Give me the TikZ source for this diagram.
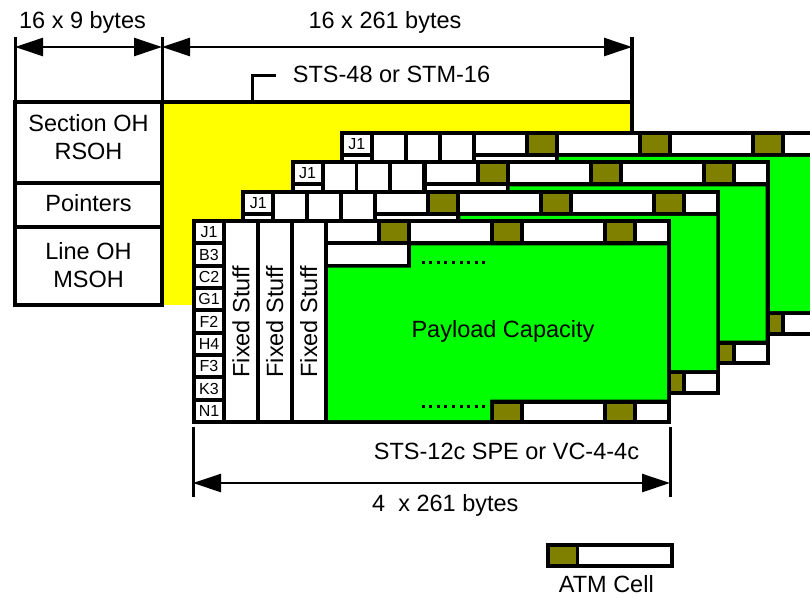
\documentclass[tikz,border=0pt]{standalone}
\usepackage{fontspec}
\setmainfont{Liberation Sans}
\usepackage{tikz}
\usetikzlibrary{arrows.meta,calc,positioning}
\definecolor{payloadgreen}{HTML}{00FF00}
\definecolor{atmolive}{HTML}{808000}
\definecolor{stmyellow}{HTML}{FFFF00}

\begin{document}
\begin{tikzpicture}[x=1pt, y=-1pt,
    every node/.style={font=\fontsize{23.5}{27.5}\selectfont, inner sep=0pt},
    pohlabel/.style={font=\fontsize{16}{18}\selectfont},
    dimline/.style={line width=2.5pt, {Triangle[length=28pt,width=18pt]}-{Triangle[length=28pt,width=18pt]}},
    extline/.style={line width=3pt},
    boxline/.style={line width=4pt}]
    \useasboundingbox (0,0) rectangle (810,598);
    \clip (0,0) rectangle (810,598);

    % STS-48 / STM-16 frame (yellow area)
    \fill[stmyellow] (162,102) rectangle (632,305);
    \draw[boxline] (13,102) -- (634,102);
    \draw[line width=3.5pt] (632,37) -- (632,305);

    % Transport overhead column
    \draw[boxline] (15,102) rectangle (162,305);
    \draw[boxline] (15,183) -- (162,183);
    \draw[boxline] (15,227) -- (162,227);
    \node[align=center] (soh) at (88.5,137) {Section OH\\RSOH};
    \node[anchor=base] (ptr) at (88.5,211.5) {Pointers};
    \node[align=center] (loh) at (88.5,265) {Line OH\\MSOH};

    % Byte counts on top
    \coordinate (ohleft) at (15,47);
    \coordinate (ohright) at (162,47);
    \coordinate (stmright) at (632,47);
    \draw[extline] (15,37) -- (15,102);
    \draw[extline] (162,37) -- (162,102);
    \draw[dimline] (ohleft) -- (ohright);
    \draw[dimline] (ohright) -- (stmright);
    \node[anchor=base] (ohbytes) at (82.5,28) {16 x 9 bytes};
    \node[anchor=base] (stmbytes) at (385,28) {16 x 261 bytes};
    \node[anchor=base] (stmlabel) at (391.5,82) {STS-48 or STM-16};
    \coordinate (leadfoot) at (252,100);
    \coordinate (leadend) at (276,75);
    \draw[extline] (leadfoot) |- (leadend);

    % Four STS-12c SPE / VC-4-4c frames, back to front
    \foreach \k in {3,2,1,0} {
        \pgfmathsetmacro{\fx}{192 + \k*49.3}
        \pgfmathsetmacro{\fy}{219 - \k*29.5}
        \begin{scope}[shift={(\fx,\fy)}]
            % frame body and payload
            \fill[black] (0,0) rectangle (479,205);
            \fill[payloadgreen] (219,26.3) -- (475,26.3) -- (475,180.7) -- (298,180.7)
                -- (298,201) -- (136,201) -- (136,48.6) -- (219,48.6) -- cycle;
            % path overhead bytes
            \foreach \r in {0,...,8} {
                \fill[white] (4,4+\r*22.33) rectangle (30,22.33+\r*22.33);
            }
            % fixed stuff columns
            \foreach \c in {0,1,2} {
                \fill[white] (34+\c*33.8,4) rectangle (64+\c*33.8,201);
            }
            % ATM cells, first two rows
            \fill[white] (136,4) rectangle (185,22.3);
            \fill[white] (136,26.3) rectangle (215,44.6);
            \foreach \j in {0,1,2} {
                \fill[atmolive] (189+\j*113,4) rectangle (215+\j*113,22.3);
                \fill[white] (219+\j*113,4) rectangle ({min(298+\j*113,475)},22.3);
            }
            % ATM cells, last row
            \foreach \j in {1,2} {
                \fill[atmolive] (189+\j*113,184.7) rectangle (215+\j*113,201);
                \fill[white] (219+\j*113,184.7) rectangle ({min(298+\j*113,475)},201);
            }
            % dots
            \foreach \d in {0,...,8} {
                \fill (229.5+\d*7.6,41.5) rectangle (232.5+\d*7.6,44.5);
                \fill (229.5+\d*7.6,185.5) rectangle (232.5+\d*7.6,188.5);
            }
            \node[pohlabel] (jone\k) at (17,13.2) {J1};
            \ifnum\k=0
                \foreach \r/\lbl in {1/B3,2/C2,3/G1,4/F2,5/H4,6/F3,7/K3,8/N1} {
                    \node[pohlabel] (poh\r) at (17,13.2+\r*22.33) {\lbl};
                }
                \foreach \c in {0,1,2} {
                    \node[rotate=90] (fixed\c) at (49+\c*33.8,102.5) {Fixed Stuff};
                }
                \node[anchor=base] (payload) at (311,118) {Payload Capacity};
            \fi
        \end{scope}
    }

    % Byte count below
    \coordinate (speleft) at (193,483);
    \coordinate (speright) at (670,483);
    \draw[extline] (193,427) -- (193,497);
    \draw[extline] (670,427) -- (670,497);
    \draw[dimline] (speleft) -- (speright);
    \node[anchor=base] (spelabel) at (506.5,459) {STS-12c SPE or VC-4-4c};
    \node[anchor=base west] (spebytes) at (372,511) {4\ \ x 261 bytes};

    % Legend
    \fill[white] (548,545) rectangle (672,566);
    \fill[atmolive] (548,545) rectangle (577.5,566);
    \draw[boxline] (548,545) rectangle (672,566);
    \draw[extline] (577.5,545) -- (577.5,566);
    \node[anchor=base] (atmlabel) at (606.3,592.7) {ATM Cell};
\end{tikzpicture}
\end{document}
